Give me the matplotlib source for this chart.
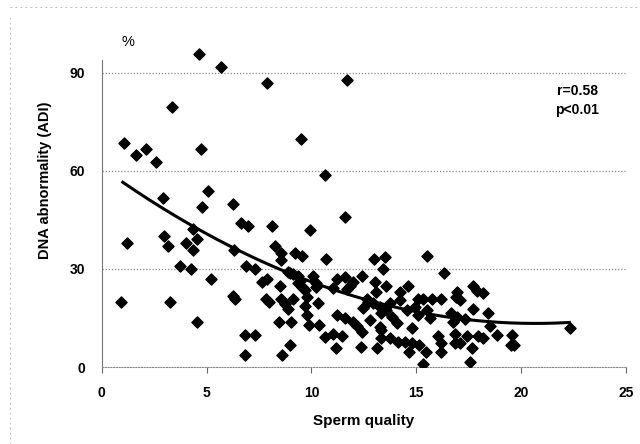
import numpy as np
import matplotlib
matplotlib.use('Agg')
import matplotlib.pyplot as plt
from matplotlib.lines import Line2D

# Sperm quality vs DNA abnormality
quality = [4.63, 5.69, 7.89, 3.36, 1.05, 1.65, 2.13, 2.61, 4.74, 9.51,
           5.07, 2.93, 4.76, 6.28, 11.72, 10.64, 11.59, 6.62, 6.98, 8.13,
           9.92, 4.36, 2.96, 3.16, 4.04, 4.55, 4.36, 1.19, 6.30, 8.24,
           8.57, 8.54, 9.21, 9.53, 3.75, 4.25, 6.87, 7.32, 5.19, 7.65,
           7.90, 8.52, 8.97, 9.34, 9.45, 9.53, 9.69, 9.77, 10.08, 10.24,
           6.27, 6.35, 0.91, 3.24, 7.81, 7.98, 8.57, 8.73, 8.89, 9.13,
           9.69, 10.32, 9.80, 4.53, 8.46, 9.02, 9.89, 10.37, 6.84, 7.31,
           8.97, 6.82, 8.60, 10.69, 12.99, 13.50, 13.39, 15.49, 16.32, 11.20,
           11.59, 12.39, 11.99, 11.86, 11.70, 11.04, 13.02, 13.07, 13.58, 14.22,
           14.61, 12.63, 12.47, 12.94, 13.26, 13.58, 13.74, 12.79, 13.34, 13.82,
           14.06, 14.22, 14.54, 14.93, 15.09, 15.33, 15.73, 16.16, 15.49, 15.65,
           15.06, 14.78, 16.92, 16.89, 17.08, 17.71, 17.88, 18.19, 17.71, 18.43,
           16.65, 16.92, 17.32, 16.77, 18.51, 22.33, 11.20, 11.59, 11.99, 12.15,
           12.39, 10.64, 11.01, 11.16, 11.48, 12.36, 13.14, 13.30, 13.74, 14.14,
           14.46, 14.78, 14.66, 15.12, 15.46, 15.30, 16.05, 16.16, 16.16, 16.84,
           16.84, 17.08, 17.40, 17.64, 17.56, 17.96, 18.19, 18.83, 19.59, 19.50,
           19.66, 10.24, 12.70, 13.26, 13.34, 8.90, 9.10, 9.37, 9.60]
adi = [95.7, 91.6, 86.8, 79.6, 68.6, 64.7, 66.8, 62.6, 66.8, 69.6,
       53.8, 51.8, 48.8, 49.9, 87.7, 58.8, 46.0, 44.1, 43.1, 43.1,
       41.9, 42.1, 40.1, 37.0, 38.0, 39.0, 35.8, 37.8, 35.8, 37.0,
       35.0, 32.7, 35.0, 33.9, 30.9, 29.9, 30.9, 29.9, 26.8, 26.1,
       26.8, 24.8, 28.8, 27.8, 26.4, 24.4, 23.5, 21.5, 27.8, 25.6,
       21.7, 20.7, 19.9, 19.9, 20.7, 19.9, 20.7, 19.3, 17.6, 20.7,
       18.7, 19.7, 15.8, 13.7, 13.7, 13.7, 12.8, 12.8, 9.7, 9.7,
       6.6, 3.7, 3.7, 32.9, 32.9, 33.7, 29.9, 33.9, 28.8, 26.8,
       27.6, 27.8, 26.1, 24.8, 23.8, 24.1, 26.1, 23.0, 24.8, 23.0,
       24.8, 20.7, 17.9, 19.5, 18.4, 17.4, 19.5, 14.4, 16.4, 15.4,
       13.4, 20.5, 17.4, 18.4, 20.7, 20.7, 20.7, 20.7, 17.4, 14.9,
       15.9, 11.8, 23.0, 21.5, 20.5, 24.8, 23.3, 22.7, 17.6, 16.6,
       16.6, 15.2, 14.6, 13.9, 12.5, 11.8, 15.9, 14.9, 13.9, 12.5,
       10.8, 9.3, 10.1, 5.9, 9.5, 6.2, 5.7, 11.3, 8.8, 7.7,
       7.7, 7.4, 4.7, 6.7, 4.7, 0.8, 9.5, 7.4, 4.7, 10.1,
       7.4, 7.4, 9.5, 5.7, 1.6, 9.5, 8.8, 9.9, 9.9, 6.7,
       6.7, 24.6, 20.0, 12.3, 8.8, 29.0, 28.4, 25.6, 24.1]

# 2nd order trend line, coefficients
trend_coef = [0.1115, -4.611, 61.0]
trend_range = [1.0, 22.3]

x_ticks = [0, 5, 10, 15, 20, 25]
y_ticks = [0, 30, 60, 90]

plt.rcParams['font.family'] = ['Liberation Sans', 'DejaVu Sans']

fig = plt.figure(figsize=(6.4, 4.44), dpi=100)
ax = fig.add_axes([0.159, 0.1734, 0.819, 0.7366])

ax.scatter(quality, adi, marker='D', s=32, color='black', edgecolors='black', zorder=3)

xs = np.linspace(trend_range[0], trend_range[1], 200)
ax.plot(xs, np.polyval(trend_coef, xs), color='black', linewidth=2.2, zorder=4)

ax.set_xlim(0, 25)
ax.set_ylim(0, 100)
ax.set_xticks(x_ticks)
ax.set_yticks(y_ticks)
ax.set_xticklabels([str(t) for t in x_ticks], fontweight='bold', fontsize=10)
ax.set_yticklabels([str(t) for t in y_ticks], fontweight='bold', fontsize=10)
ax.tick_params(axis='x', length=4, width=0.8, color='#666666', pad=10)
ax.tick_params(axis='y', length=0, pad=12)

for g in y_ticks[1:]:
    ax.axhline(g, color='#888888', linewidth=0.9, linestyle=(0, (1, 1.5)), zorder=1)

for s in ['top', 'right']:
    ax.spines[s].set_visible(False)
ax.spines['left'].set_color('#777777')
ax.spines['left'].set_linewidth(0.8)
ax.spines['left'].set_bounds(0, 94)
ax.spines['bottom'].set_color('#888888')
ax.spines['bottom'].set_linestyle((0, (1, 1.5)))

ax.set_xlabel('Sperm quality', fontweight='bold', fontsize=11, labelpad=10)
fig.text(45 / 640, 1 - 180 / 444, 'DNA abnormality (ADI)', rotation=90,
         ha='center', va='center', fontweight='bold', fontsize=10.5)
fig.text(128 / 640, 1 - 42 / 444, '%', ha='center', va='center', fontsize=10.5)
ax.text(577 / 640, 1 - 91 / 444, 'r=0.58', transform=fig.transFigure,
        ha='center', va='center', fontweight='bold', fontsize=10)
ax.text(577 / 640, 1 - 110 / 444, 'p<0.01', transform=fig.transFigure,
        ha='center', va='center', fontweight='bold', fontsize=10)

# faint page border from the scan
fig.add_artist(Line2D([0.015, 1.0], [1 - 7 / 444, 1 - 7 / 444], color='#aaaaaa',
                      linewidth=0.6, linestyle=(0, (2, 4))))
fig.add_artist(Line2D([10 / 640, 10 / 640], [0.0, 1 - 14 / 444], color='#aaaaaa',
                      linewidth=0.6, linestyle=(0, (2, 4))))

fig.savefig('out.png', dpi=100)
